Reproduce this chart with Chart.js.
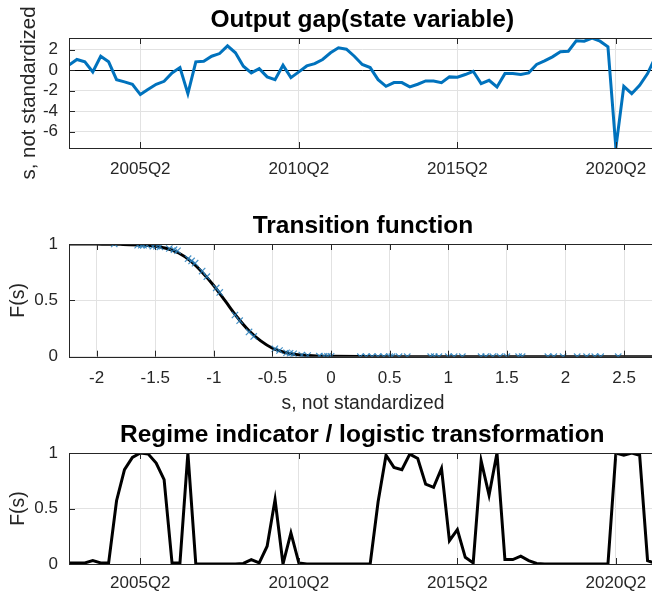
<!DOCTYPE html>
<html>
<head>
<meta charset="utf-8">
<script src="https://cdn.jsdelivr.net/npm/chart.js@4.4.0/dist/chart.umd.min.js"></script>
<style>
html, body { margin: 0; padding: 0; background: #fff; overflow: hidden; }
#wrap { position: relative; width: 652px; height: 592px; overflow: hidden; }
canvas { position: absolute; left: 0; }
</style>
</head>
<body>
<div id="wrap">
  <canvas id="gap" width="680" height="190" style="top:0px"></canvas>
  <canvas id="trans" width="680" height="225" style="top:190px"></canvas>
  <canvas id="regime" width="680" height="177" style="top:415px"></canvas>
</div>
<script>
// quarterly output gap, 2003Q1 .. 2021Q3
const outputGap = [0.5, 1.05, 0.82, -0.16, 1.37, 0.82, -0.92, -1.14, -1.37, -2.38,
  -1.86, -1.37, -1.08, -0.26, 0.26, -2.29, 0.82, 0.88, 1.37, 1.63,
  2.38, 1.70, 0.39, -0.26, 0.15, -0.65, -0.92, 0.49, -0.72, -0.16,
  0.42, 0.65, 1.05, 1.70, 2.19, 2.06, 1.37, 0.56, 0.26, -0.92,
  -1.57, -1.21, -1.21, -1.63, -1.37, -1.05, -1.05, -1.21, -0.65, -0.68,
  -0.42, -0.10, -1.30, -0.98, -1.63, -0.33, -0.33, -0.42, -0.26, 0.56,
  0.91, 1.31, 1.80, 1.86, 2.87, 2.84, 3.15, 2.84, 2.29, -7.58,
  -1.57, -2.29, -1.47, -0.33, 1.3];

// regime indicator F(s) for the same quarters
const regime = [0.01, 0.01, 0.01, 0.03, 0.01, 0.01, 0.57, 0.85, 0.96, 1.0,
  0.99, 0.91, 0.76, 0.01, 0.01, 1.0, 0, 0, 0, 0,
  0, 0, 0.005, 0.04, 0.01, 0.16, 0.58, 0, 0.28, 0.01,
  0, 0, 0, 0, 0, 0, 0, 0, 0, 0.56,
  0.98, 0.87, 0.85, 0.99, 0.95, 0.72, 0.69, 0.86, 0.21, 0.31,
  0.06, 0.01, 0.93, 0.62, 1.0, 0.04, 0.04, 0.07, 0.03, 0.005,
  0, 0, 0, 0, 0, 0, 0, 0, 0, 1.0,
  0.98, 1.0, 0.98, 0.03, 0.005];

// transition function curve
const curveS = [-2.25, -2.0, -1.8, -1.6, -1.5, -1.4, -1.3, -1.2, -1.1, -1.0, -0.9, -0.8,
  -0.7, -0.6, -0.5, -0.4, -0.3, -0.2, -0.1, 0, 0.5, 1, 1.5, 2, 2.5, 2.8];
const curveF = [1.0, 0.999, 0.997, 0.99, 0.98, 0.96, 0.92, 0.85, 0.75, 0.63, 0.49, 0.35,
  0.23, 0.14, 0.075, 0.04, 0.02, 0.01, 0.005, 0.003, 0, 0, 0, 0, 0, 0];

// observations (x markers)
const obsS = [-1.85, -1.65, -1.62, -1.6, -1.57, -1.52, -1.49, -1.46, -1.38, -1.34, -1.31,
  -1.22, -1.19, -1.16, -1.1, -1.06, -0.98, -0.95, -0.82, -0.78, -0.7, -0.66,
  -0.48, -0.44, -0.38, -0.35, -0.32, -0.25, -0.2, -0.1, -0.06, -0.03, 0.0,
  0.25, 0.3, 0.35, 0.4, 0.45, 0.5, 0.52, 0.58, 0.65,
  0.85, 0.88, 0.92, 1.0, 1.05, 1.12, 1.28, 1.32, 1.38, 1.44, 1.5, 1.6, 1.63,
  1.85, 1.9, 1.98, 2.1, 2.18, 2.25, 2.3, 2.45];
const obsF = [1.0, 0.99, 0.99, 0.99, 0.99, 0.98, 0.98, 0.975, 0.96, 0.95, 0.94,
  0.87, 0.85, 0.83, 0.76, 0.71, 0.61, 0.57, 0.37, 0.32, 0.22, 0.18,
  0.07, 0.055, 0.035, 0.03, 0.025, 0.015, 0.01, 0.005, 0.004, 0.003, 0.003,
  0, 0, 0, 0, 0, 0, 0, 0, 0,
  0, 0, 0, 0, 0, 0, 0, 0, 0, 0, 0, 0, 0,
  0, 0, 0, 0, 0, 0, 0, 0];

const quarters = [];
for (let i = 0; i < outputGap.length; i++) {
  quarters.push((2003 + Math.floor(i / 4)) + 'Q' + (i % 4 + 1));
}
const xTickLabels = ['2005Q2', '2010Q2', '2015Q2', '2020Q2'];
const gapTicks = [-6, -4, -2, 0, 2];
const fTicks = [0, 0.5, 1];
const sTicks = [-2, -1.5, -1, -0.5, 0, 0.5, 1, 1.5, 2, 2.5];

const FAMILY = "'Liberation Sans', Arial, Helvetica, sans-serif";
const TXT = '#262626';
const GRID = '#e2e2e2';
const tickFont = { family: FAMILY, size: 17 };

// axes box, inward tick marks and axis labels (MATLAB style)
const frame = {
  id: 'frame',
  afterDatasetsDraw(chart, args, opts) {
    const { ctx, chartArea: a, scales } = chart;
    ctx.save();
    ctx.strokeStyle = TXT;
    ctx.lineWidth = 1;
    ctx.strokeRect(Math.round(a.left) + 0.5, Math.round(a.top) + 0.5,
      Math.round(a.right - a.left), Math.round(a.bottom - a.top));
    ctx.beginPath();
    scales.x.ticks.forEach(t => {
      const px = Math.round(scales.x.getPixelForValue(t.value)) + 0.5;
      ctx.moveTo(px, a.bottom); ctx.lineTo(px, a.bottom - 6);
      ctx.moveTo(px, a.top); ctx.lineTo(px, a.top + 6);
    });
    scales.y.ticks.forEach(t => {
      const py = Math.round(scales.y.getPixelForValue(t.value)) + 0.5;
      ctx.moveTo(a.left, py); ctx.lineTo(a.left + 6, py);
    });
    ctx.stroke();
    ctx.fillStyle = TXT;
    ctx.textAlign = 'center';
    ctx.textBaseline = 'alphabetic';
    if (opts.yTitle) {
      ctx.save();
      ctx.font = opts.yTitleSize + 'px ' + FAMILY;
      ctx.translate(opts.yTitleX, (a.top + a.bottom) / 2);
      ctx.rotate(-Math.PI / 2);
      ctx.fillText(opts.yTitle, 0, 0);
      ctx.restore();
    }
    if (opts.xTitle) {
      ctx.font = opts.xTitleSize + 'px ' + FAMILY;
      ctx.fillText(opts.xTitle, (a.left + a.right) / 2, opts.xTitleY);
    }
    ctx.restore();
  }
};

function titleCfg(text, top, bottom) {
  return {
    display: true, text: text, fullSize: false, color: '#000',
    font: { family: FAMILY, size: 24.5, weight: 'bold' },
    padding: { top: top, bottom: bottom }
  };
}

function quarterAxis(height, pad) {
  return {
    type: 'linear', min: 0, max: outputGap.length - 1,
    afterBuildTicks: s => { s.ticks = xTickLabels.map(l => ({ value: quarters.indexOf(l) })); },
    afterFit: s => { s.height = height; },
    ticks: { callback: v => quarters[v], padding: pad, font: tickFont, color: TXT, maxRotation: 0, autoSkip: false },
    grid: { color: GRID, drawTicks: false },
    border: { display: false }
  };
}

function valueAxis(min, max, list, zeroLine) {
  return {
    type: 'linear', min: min, max: max,
    afterBuildTicks: s => { s.ticks = list.map(v => ({ value: v })); },
    afterFit: s => { s.width = 69; },
    ticks: { padding: 11, font: tickFont, color: TXT, callback: v => String(v) },
    grid: {
      drawTicks: false,
      color: c => (zeroLine && c.tick && c.tick.value === 0) ? '#000' : GRID
    },
    border: { display: false }
  };
}

const common = {
  responsive: false,
  animation: false,
  events: []
};

new Chart(document.getElementById('gap'), {
  type: 'line',
  data: {
    datasets: [{
      data: outputGap.map((v, i) => ({ x: i, y: v })),
      borderColor: '#0072BD', borderWidth: 3, pointRadius: 0, tension: 0
    }]
  },
  options: Object.assign({}, common, {
    layout: { padding: { left: 0, right: 24.5, top: 0, bottom: 0 } },
    scales: { x: quarterAxis(42, 11), y: valueAxis(-7.6, 3.15, gapTicks, true) },
    plugins: {
      legend: { display: false }, tooltip: { enabled: false },
      title: titleCfg('Output gap(state variable)', 5.3, 3.3),
      frame: { yTitle: 's, not standardized', yTitleX: 34.5, yTitleSize: 20.5 }
    }
  }),
  plugins: [frame]
});

new Chart(document.getElementById('trans'), {
  type: 'line',
  data: {
    datasets: [{
      data: obsS.map((s, i) => ({ x: s, y: obsF[i] })),
      showLine: false, pointStyle: 'crossRot', pointRadius: 4.5,
      borderColor: 'rgba(40,128,190,0.85)', pointBorderWidth: 1.2, backgroundColor: 'transparent'
    }, {
      data: curveS.map((s, i) => ({ x: s, y: curveF[i] })),
      borderColor: '#000', borderWidth: 3, pointRadius: 0, cubicInterpolationMode: 'monotone'
    }]
  },
  options: Object.assign({}, common, {
    layout: { padding: { left: 0, right: 23.1, top: 0, bottom: 0 } },
    scales: {
      x: {
        type: 'linear', min: -2.236, max: 2.78,
        afterBuildTicks: s => { s.ticks = sTicks.map(v => ({ value: v })); },
        afterFit: s => { s.height = 58.3; },
        ticks: { padding: 11, font: tickFont, color: TXT, maxRotation: 0, autoSkip: false, callback: v => String(v) },
        grid: { color: GRID, drawTicks: false },
        border: { display: false }
      },
      y: valueAxis(0, 1, fTicks, false)
    },
    plugins: {
      legend: { display: false }, tooltip: { enabled: false },
      title: titleCfg('Transition function', 21.8, 2.8),
      frame: { yTitle: 'F(s)', yTitleX: 24, yTitleSize: 19.5, xTitle: 's, not standardized', xTitleY: 219, xTitleSize: 19.3 }
    }
  }),
  plugins: [frame]
});

new Chart(document.getElementById('regime'), {
  type: 'line',
  data: {
    datasets: [{
      data: regime.map((v, i) => ({ x: i, y: v })),
      borderColor: '#000', borderWidth: 3, pointRadius: 0, tension: 0
    }]
  },
  options: Object.assign({}, common, {
    layout: { padding: { left: 0, right: 24.5, top: 0, bottom: 0 } },
    scales: { x: quarterAxis(28, 9.5), y: valueAxis(0, 1, fTicks, false) },
    plugins: {
      legend: { display: false }, tooltip: { enabled: false },
      title: titleCfg('Regime indicator / logistic transformation', 5.3, 3.3),
      frame: { yTitle: 'F(s)', yTitleX: 24, yTitleSize: 19.5 }
    }
  }),
  plugins: [frame]
});
</script>
</body>
</html>
